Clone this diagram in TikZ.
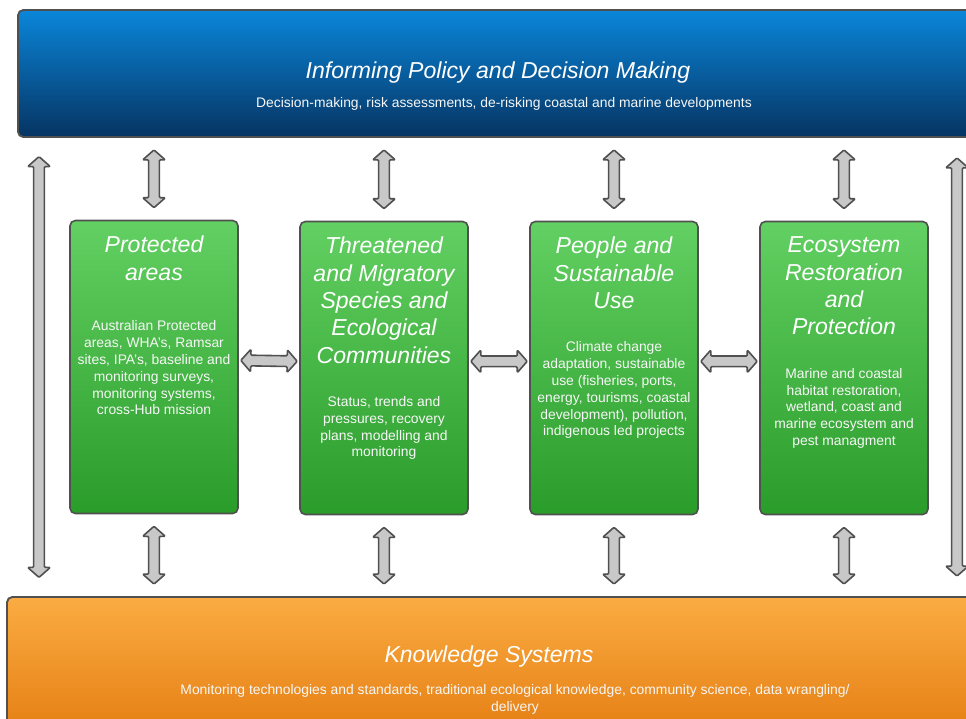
\documentclass[tikz,border=0pt]{standalone}
\usepackage{fontspec}
\setmainfont{Liberation Sans}
\usetikzlibrary{positioning,calc}

\definecolor{bluetop}{RGB}{10,134,218}
\definecolor{bluebot}{RGB}{6,52,98}
\definecolor{greentop}{RGB}{98,208,98}
\definecolor{greenbot}{RGB}{42,156,42}
\definecolor{orangetop}{RGB}{250,172,66}
\definecolor{orangebot}{RGB}{222,112,4}
\definecolor{rim}{RGB}{80,80,80}
\definecolor{arrowfill}{RGB}{200,200,200}

\begin{document}
\begin{tikzpicture}[x=0.75pt,y=-0.75pt]
\tikzset{
	band/.style={rectangle, rounded corners=4pt, draw=rim, line width=1.4pt},
	grn/.style={rectangle, rounded corners=4pt, draw=rim, line width=1.2pt,
		top color=greentop, bottom color=greenbot,
		minimum width=126pt, minimum height=219.75pt},
	ttl/.style={inner sep=0pt, align=center, text=white,
		font=\fontsize{17.3}{20.5}\selectfont\itshape},
	txt/.style={inner sep=0pt, align=center, text=white!94!gray,
		font=\fontsize{10.4}{12.6}\selectfont},
	barrow/.style={draw=rim, fill=arrowfill, line width=1.2pt, line join=round,
		rounded corners=0.8pt, to path={
		let \p1=($(\tikztostart)!#1!(\tikztotarget)$),
		    \p2=($(\tikztotarget)!#1!(\tikztostart)$),
		    \n1={veclen(\x2-\x1,\y2-\y1)},
		    \n2={(\x2-\x1)/\n1}, \n3={(\y2-\y1)/\n1}
		in (\p1)
		-- ({\x1+7.5pt*\n2-8.5pt*\n3},{\y1+7.5pt*\n3+8.5pt*\n2})
		-- ({\x1+7.5pt*\n2-4pt*\n3},{\y1+7.5pt*\n3+4pt*\n2})
		-- ({\x2-7.5pt*\n2-4pt*\n3},{\y2-7.5pt*\n3+4pt*\n2})
		-- ({\x2-7.5pt*\n2-8.5pt*\n3},{\y2-7.5pt*\n3+8.5pt*\n2})
		-- (\p2)
		-- ({\x2-7.5pt*\n2+8.5pt*\n3},{\y2-7.5pt*\n3-8.5pt*\n2})
		-- ({\x2-7.5pt*\n2+4pt*\n3},{\y2-7.5pt*\n3-4pt*\n2})
		-- ({\x1+7.5pt*\n2+4pt*\n3},{\y1+7.5pt*\n3-4pt*\n2})
		-- ({\x1+7.5pt*\n2+8.5pt*\n3},{\y1+7.5pt*\n3-8.5pt*\n2})
		-- cycle}},
	barrow/.default=9pt
}

\clip (0,0) rectangle (966,718);
\fill[white] (0,0) rectangle (966,718);

% top band
\node[band, top color=bluetop, bottom color=bluebot,
	minimum width=720pt, minimum height=95.25pt] (policy) at (498,73.5) {};
\node[ttl] (policyt) at (498,73) {Informing Policy and Decision Making};
\node[txt] (policys) at (504,104)
	{Decision-making, risk assessments, de-risking coastal and marine developments};

% bottom band
\node[band, top color=orangetop, bottom color=orangebot,
	minimum width=765pt, minimum height=135pt] (know) at (517,687) {};
\node[ttl] (knowt) at (489,657) {Knowledge Systems};
\node[txt] (knows) at (515,699)
	{Monitoring technologies and standards, traditional ecological knowledge, community science, data wrangling/\\delivery};

% the four themes
\node[grn] (p1) at (154,367) {};
\node[grn] (p2) at (384,368) {};
\node[grn] (p3) at (614,368) {};
\node[grn] (p4) at (844,368) {};

\node[ttl, below=12pt of p1.north] (p1t) {Protected\\areas};
\node[txt, below=30pt of p1t] (p1s) {Australian Protected\\areas, WHA's, Ramsar\\sites, IPA's, baseline and\\monitoring surveys,\\monitoring systems,\\cross-Hub mission};

\node[ttl, below=12pt of p2.north] (p2t) {Threatened\\and Migratory\\Species and\\Ecological\\Communities};
\node[txt, below=24.5pt of p2t] (p2s) {Status, trends and\\pressures, recovery\\plans, modelling and\\monitoring};

\node[ttl, below=12pt of p3.north] (p3t) {People and\\Sustainable\\Use};
\node[txt, below=24.5pt of p3t] (p3s) {Climate change\\adaptation, sustainable\\use (fisheries, ports,\\energy, tourisms, coastal\\development), pollution,\\indigenous led projects};

\node[ttl, below=12pt of p4.north] (p4t) {Ecosystem\\Restoration\\and\\Protection};
\node[txt, below=24.5pt of p4t] (p4s) {Marine and coastal\\habitat restoration,\\wetland, coast and\\marine ecosystem and\\pest managment};

% arrows to the top band
\foreach \i in {1,...,4}
	\draw[barrow] (policy.south -| p\i.north) to (p\i.north);

% arrows to the bottom band
\foreach \i in {1,...,4}
	\draw[barrow] (p\i.south) to (know.north -| p\i.south);

% arrows between themes
\draw[barrow=1.5pt] ([yshift=5pt]p1.east) to ([yshift=5pt]p2.west);
\draw[barrow=1.5pt] ([yshift=5pt]p2.east) to ([yshift=5pt]p3.west);
\draw[barrow=1.5pt] ([yshift=5pt]p3.east) to ([yshift=5pt]p4.west);

% long side arrows
\coordinate (lside) at (39,0);
\coordinate (rside) at (957,0);
\draw[barrow=14pt] (policy.south -| lside) to (know.north -| lside);
\draw[barrow=15pt] (policy.south -| rside) to (know.north -| rside);

\end{tikzpicture}
\end{document}
